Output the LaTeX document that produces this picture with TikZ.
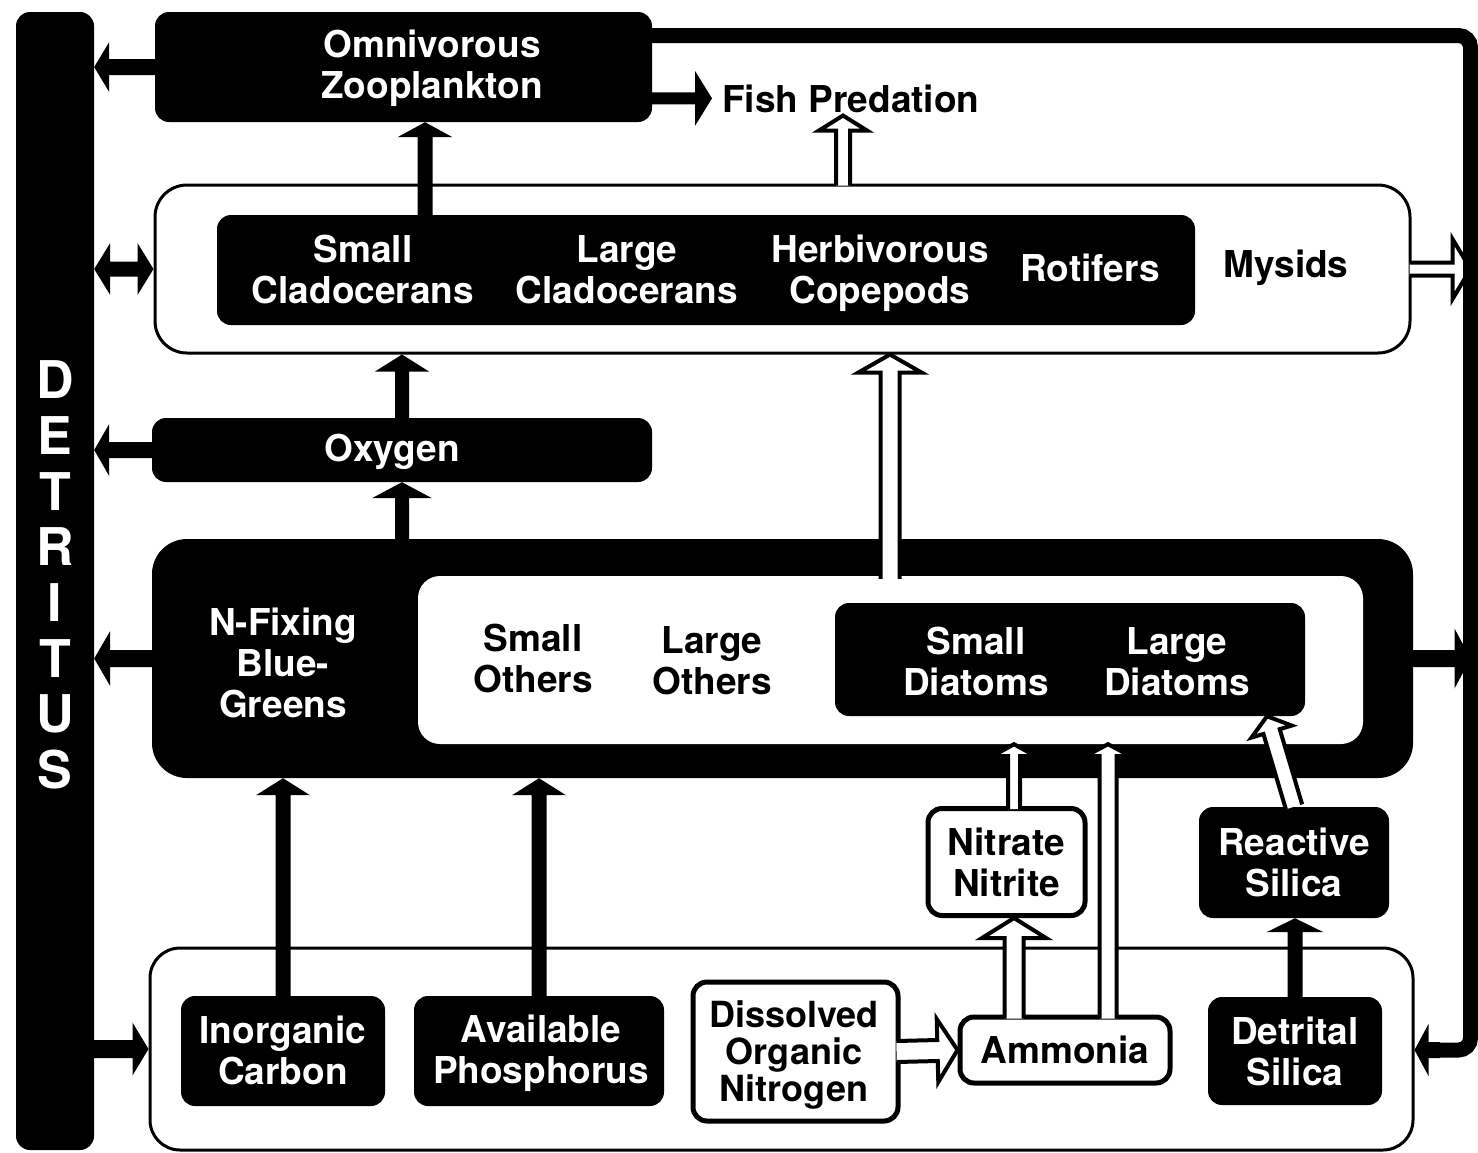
\documentclass[tikz,border=0pt]{standalone}
\usepackage{fontspec}
\setmainfont{TeX Gyre Heros}
\usetikzlibrary{calc}
\newcommand\lblfont{\fontsize{37}{41}\selectfont\bfseries}
\newcommand\donfont{\fontsize{36}{37}\selectfont\bfseries}
\newcommand\detfont{\fontsize{52}{55.7}\selectfont\bfseries}
% filled black arrow: from, to, shaft half, head length, head half
\newcommand\blkarrow[5]{%
  \fill let \p1=(#1), \p2=(#2),
    \n1={atan2(\y2-\y1,\x2-\x1)}, \n2={veclen(\x2-\x1,\y2-\y1)} in
    [shift={(\p1)}, rotate=\n1]
    (0pt,-#3pt) -- ({\n2*1pt-#4pt},-#3pt) -- ({\n2*1pt-#4pt},-#5pt) -- ({\n2*1pt},0pt)
    -- ({\n2*1pt-#4pt},#5pt) -- ({\n2*1pt-#4pt},#3pt) -- (0pt,#3pt) -- cycle;}
% hollow arrow (white with black outline, open at its back)
\newcommand\holarrow[5]{%
  \filldraw[fill=white, draw=black, line width=4pt, line join=miter]
    let \p1=(#1), \p2=(#2),
    \n1={atan2(\y2-\y1,\x2-\x1)}, \n2={veclen(\x2-\x1,\y2-\y1)} in
    [shift={(\p1)}, rotate=\n1]
    (0pt,-#3pt) -- ({\n2*1pt-#4pt},-#3pt) -- ({\n2*1pt-#4pt},-#5pt) -- ({\n2*1pt},0pt)
    -- ({\n2*1pt-#4pt},#5pt) -- ({\n2*1pt-#4pt},#3pt) -- (0pt,#3pt);}
% double-headed black arrow
\newcommand\dblarrow[5]{%
  \fill let \p1=(#1), \p2=(#2),
    \n1={atan2(\y2-\y1,\x2-\x1)}, \n2={veclen(\x2-\x1,\y2-\y1)} in
    [shift={(\p1)}, rotate=\n1]
    (0pt,0pt) -- (#4pt,-#5pt) -- (#4pt,-#3pt) -- ({\n2*1pt-#4pt},-#3pt) -- ({\n2*1pt-#4pt},-#5pt)
    -- ({\n2*1pt},0pt) -- ({\n2*1pt-#4pt},#5pt) -- ({\n2*1pt-#4pt},#3pt) -- (#4pt,#3pt) -- (#4pt,#5pt) -- cycle;}
\begin{document}
\begin{tikzpicture}[x=1pt,y=-1pt,
  darkbox/.style={fill=black, rounded corners=14pt, inner sep=0pt, text=white, align=center, font=\lblfont},
  openbox/.style={draw=black, fill=white, rounded corners=14pt, inner sep=0pt, text=black, align=center, font=\lblfont},
  tx/.style={inner sep=0pt, align=center, font=\lblfont, text=black},
  wtx/.style={tx, text=white}]
\useasboundingbox[fill=white] (0,0) rectangle (1478,1152);

% ---------- boxes ----------
\node[darkbox, minimum width=78pt, minimum height=1138pt] (dt) at (55,581) {};
\node[darkbox, minimum width=497pt, minimum height=110pt] (oz) at (403.5,67) {};
\node[openbox, line width=3pt, rounded corners=32pt, minimum width=1255pt, minimum height=168pt] (zoo) at (782.5,269) {};
\node[darkbox, minimum width=978pt, minimum height=110pt] (zooin) at (706,270) {};
\node[darkbox, minimum width=500pt, minimum height=64pt] (oxy) at (402,450) {};
\node[darkbox, rounded corners=35pt, minimum width=1261pt, minimum height=239pt] (phy) at (782.5,658.5) {};
\node[fill=white, rounded corners=22pt, inner sep=0pt, minimum width=945pt, minimum height=168pt] (phyw) at (890.5,660) {};
\node[darkbox, minimum width=470pt, minimum height=113pt] (dia) at (1070,659.5) {};
\node[openbox, line width=3pt, rounded corners=30pt, minimum width=1263pt, minimum height=202pt] (nut) at (781.5,1049) {};
\node[darkbox, minimum width=204pt, minimum height=110pt, text depth=2pt] (ic) at (283,1051) {Inorganic\\Carbon};
\node[darkbox, minimum width=250pt, minimum height=110pt] (ap) at (539,1051) {};
\node[openbox, line width=5pt, minimum width=205pt, minimum height=139pt] (don) at (795.5,1051.5) {};
\node[openbox, line width=5pt, minimum width=210pt, minimum height=66pt] (amm) at (1065,1050) {Ammonia};
\node[darkbox, minimum width=174pt, minimum height=108pt] (ds) at (1295,1051) {Detrital\\Silica};
\node[openbox, line width=5pt, minimum width=157pt, minimum height=107pt] (nit) at (1006.5,862) {Nitrate\\Nitrite};
\node[darkbox, minimum width=190pt, minimum height=111pt] (rs) at (1294,862.5) {Reactive\\Silica};

\node[tx, anchor=base west, inner xsep=10pt, inner ysep=3pt] (tfish) at (712,112) {Fish Predation};

% ---------- guide coordinates ----------
\coordinate (c425) at (425,0);
\coordinate (c843) at (843,0);
\coordinate (c890) at (890,0);
\coordinate (c1014) at (1014,0);
\coordinate (c1108) at (1108,0);
\coordinate (c1267) at (1267,0);
\coordinate (rtop) at (1470.5,35.5);
\coordinate (rbot) at (1470.5,1050);
\coordinate (rin) at (1440,1050);

% ---------- black arrows ----------
\blkarrow{oz.west}{dt.east |- oz.west}{8}{15}{25}
\dblarrow{dt.east |- zoo.west}{zoo.west}{7.5}{16}{26}
\blkarrow{oxy.west}{dt.east |- oxy.west}{8}{15}{26}
\blkarrow{phy.west}{dt.east |- phy.west}{8.5}{16}{27.5}
\blkarrow{dt.east |- nut.west}{nut.west}{9}{16}{26.5}
\blkarrow{zooin.north -| c425}{oz.south -| c425}{7.5}{15}{27.5}
\blkarrow{oxy.north}{zoo.south -| oxy.north}{7}{17}{27}
\blkarrow{phy.north -| oxy.north}{oxy.south}{7}{16}{30}
\blkarrow{ic.north}{phy.south -| ic.north}{7.5}{17}{27}
\blkarrow{ap.north}{phy.south -| ap.north}{7.5}{17}{27}
\blkarrow{ds.north}{rs.south -| ds.north}{7.5}{14}{28.5}
\blkarrow{oz.east |- tfish.west}{tfish.west}{6}{17}{27.5}
\blkarrow{phy.east}{rtop |- phy.east}{8.5}{16}{30}

% ---------- hollow arrows ----------
\holarrow{$(zoo.north -| c843)+(0,2)$}{tfish.south -| c843}{7}{15}{24}
\holarrow{$(phyw.north -| c890)+(0,3)$}{zoo.south -| c890}{9.5}{18}{31.5}
\holarrow{$(nit.north -| c1014)+(0,3)$}{phyw.south -| c1014}{6}{12}{21.5}
\holarrow{$(amm.north -| c1108)+(0,4)$}{phyw.south -| c1108}{8.5}{12}{22.5}
\holarrow{$(amm.north -| c1014)+(0,4)$}{nit.south -| c1014}{9.5}{20}{32}
\holarrow{$(don.east)+(-4,0)$}{amm.west}{10.5}{20}{31.5}
\holarrow{$(zoo.east)+(-2,0)$}{rtop |- zoo.east}{6.5}{18}{30}
\holarrow{rs.north}{dia.south -| c1267}{8.5}{16}{21}

% ---------- right return line ----------
\draw[line width=15pt, rounded corners=12pt] (oz.east |- rtop) -- (rtop) -- (rbot) -- (rin);
\blkarrow{rin}{nut.east |- rin}{8}{14}{26}

% ---------- labels ----------
\node[wtx, font=\detfont] (tdet) at (55,575) {D\\E\\T\\R\\I\\T\\U\\S};
\node[wtx] (toz) at (432,68) {Omnivorous\\Zooplankton};
\node[wtx] (toxy) at (392,452) {Oxygen};
\node[wtx] (tsc) at (363,270) {Small\\Cladocerans};
\node[wtx] (tlc) at (627,270) {Large\\Cladocerans};
\node[wtx] (thc) at (880,273) {Herbivorous\\Copepods};
\node[wtx] (trot) at (1090,268) {Rotifers};
\node[tx] (tmys) at (1286,268) {Mysids};
\node[wtx] (tnfix) at (283,663) {N-Fixing\\Blue-\\Greens};
\node[tx] (tso) at (533,659) {Small\\Others};
\node[tx] (tlo) at (712,661) {Large\\Others};
\node[wtx] (tsd) at (976,661) {Small\\Diatoms};
\node[wtx] (tld) at (1177,662) {Large\\Diatoms};
\node[wtx] (tap) at (541,1053) {Available\\Phosphorus};
\node[tx, font=\donfont] (tdon) at (794,1055) {Dissolved\\Organic\\Nitrogen};
\end{tikzpicture}
\end{document}
